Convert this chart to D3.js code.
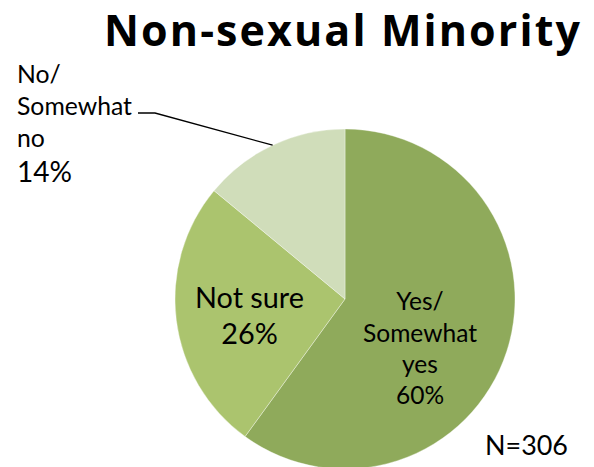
<!DOCTYPE html>
<html>
<head>
<meta charset="utf-8">
<script src="https://cdn.jsdelivr.net/npm/d3@7/dist/d3.min.js"></script>
<style>
  html, body { margin: 0; padding: 0; background: #ffffff; }
  svg { display: block; }
  text { font-family: Lato, "Open Sans", "Liberation Sans", sans-serif; fill: #000; }
  text.title { font-family: "Open Sans", "Noto Sans", sans-serif; }
</style>
</head>
<body>
<script>
// Survey answers for the non-sexual-minority group
const categories = ["Yes/ Somewhat yes", "Not sure", "No/ Somewhat no"];
const labelLines = [["Yes/", "Somewhat", "yes"], ["Not sure"], ["No/", "Somewhat", "no"]];
const shares = [60, 26, 14];
const sliceColors = ["#8FAA5B", "#ABC46E", "#D0DDBA"];
const chartTitle = "Non-sexual Minority";
const sampleNote = "N=306";

const width = 594, height = 467;
const cx = 345, cy = 299, radius = 170;

const svg = d3.select("body").append("svg")
  .attr("width", width).attr("height", height);

const pie = d3.pie().sort(null).value(d => d.value);
const arc = d3.arc().innerRadius(0).outerRadius(radius);
const color = d3.scaleOrdinal().domain(categories).range(sliceColors);

const data = categories.map((c, i) => ({ name: c, value: shares[i], lines: labelLines[i] }));
const arcs = pie(data);

const g = svg.append("g").attr("transform", `translate(${cx},${cy})`);
g.selectAll("path").data(arcs).join("path")
  .attr("d", arc)
  .attr("fill", d => color(d.data.name))
  .attr("stroke", "#ffffff")
  .attr("stroke-opacity", 0.45)
  .attr("stroke-width", 0.8);

// Scale a group of text lines so that the widest one spans the given width
function fitGroup(texts, target) {
  const base = 20;
  texts.forEach(t => t.attr("font-size", base));
  const w = d3.max(texts, t => t.node().getComputedTextLength());
  const size = base * target / w;
  texts.forEach(t => t.attr("font-size", size));
  return size;
}

// Title: fixed size, letter spacing trimmed to the wanted width
const title = svg.append("text")
  .attr("class", "title")
  .attr("x", 104).attr("y", 46)
  .attr("font-weight", "bold")
  .attr("font-size", 43)
  .text(chartTitle);
{
  const w = title.node().getComputedTextLength();
  const n = chartTitle.length;
  title.attr("letter-spacing", (478 - w) / n);
}

const pct = v => `${v}%`;

// "Yes" label inside its slice
{
  const d = arcs[0];
  const lx = 420;
  const ys = [310, 342, 373];
  const t = d.data.lines.map((s, i) => svg.append("text")
    .attr("x", lx).attr("y", ys[i]).attr("text-anchor", "middle").text(s));
  const size = fitGroup([t[1]], 114);
  t.forEach(x => x.attr("font-size", size));
  svg.append("text").attr("x", lx).attr("y", 404).attr("text-anchor", "middle")
    .attr("font-size", size).text(pct(d.data.value));
}

// "Not sure" label inside its slice
{
  const d = arcs[1];
  const lx = 249.5;
  const t1 = svg.append("text").attr("x", lx).attr("y", 308)
    .attr("text-anchor", "middle").text(d.data.lines[0]);
  const size = fitGroup([t1], 109);
  svg.append("text").attr("x", lx).attr("y", 344).attr("text-anchor", "middle")
    .attr("font-size", size).text(pct(d.data.value));
}

// "No" label outside the pie with a leader line
{
  const d = arcs[2];
  const lx = 17;
  const ys = [83, 115, 147];
  const t = d.data.lines.map((s, i) => svg.append("text")
    .attr("x", lx).attr("y", ys[i]).text(s));
  const size = fitGroup([t[1]], 115);
  t.forEach(x => x.attr("font-size", size));
  const p = svg.append("text").attr("x", lx).attr("y", 182).text(pct(d.data.value));
  fitGroup([p], 55);

  const mid = (d.startAngle + d.endAngle) / 2;
  const ex = cx + radius * Math.sin(mid);
  const ey = cy - radius * Math.cos(mid);
  svg.append("polyline")
    .attr("points", `138,113 155,113 ${ex},${ey}`)
    .attr("fill", "none").attr("stroke", "#000").attr("stroke-width", 1.3);
}

// Sample size note
const note = svg.append("text").attr("x", 485).attr("y", 455).text(sampleNote);
fitGroup([note], 83);
</script>
</body>
</html>
